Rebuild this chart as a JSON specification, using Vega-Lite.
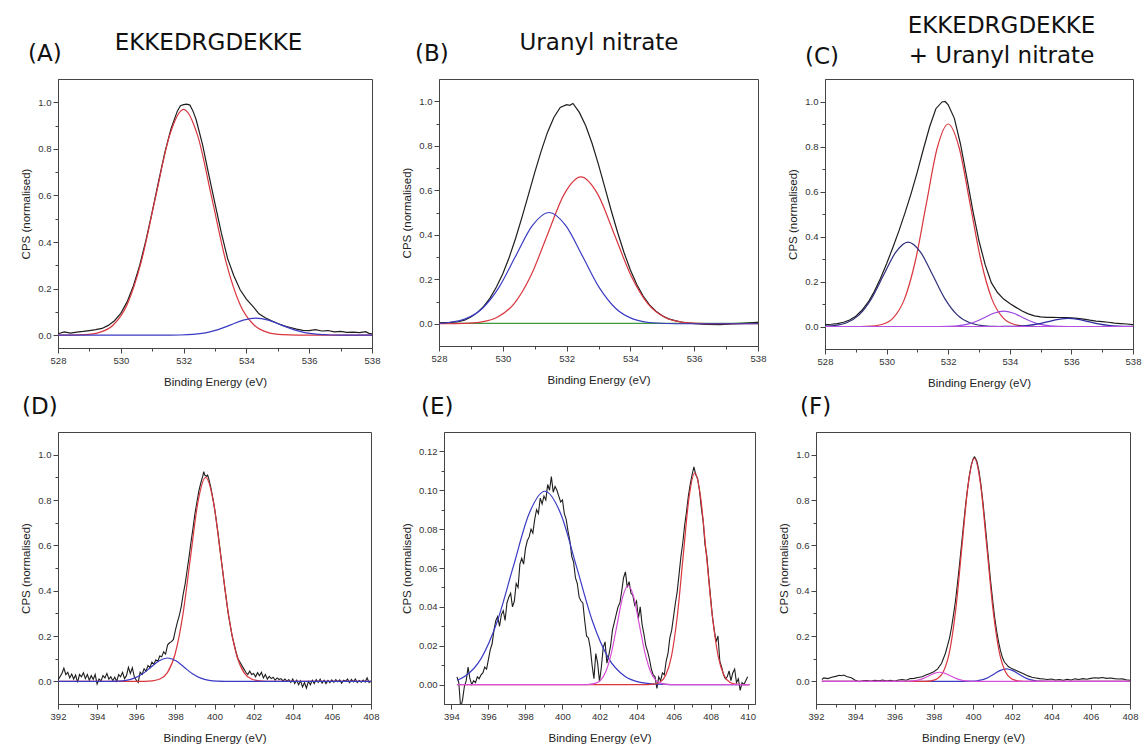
{
"$schema": "https://vega.github.io/schema/vega-lite/v6.json",
"background": "white",
"padding": {"left": 20, "top": 13, "right": 2, "bottom": 2},
"spacing": 5,
"datasets": {
"A": [
{"series":"Measured","eV":528,"cps":0.006},{"series":"Measured","eV":528.2,"cps":0.014},{"series":"Measured","eV":528.4,"cps":0.009},{"series":"Measured","eV":528.6,"cps":0.013},{"series":"Measured","eV":528.8,"cps":0.016},{"series":"Measured","eV":529,"cps":0.02},{"series":"Measured","eV":529.2,"cps":0.024},{"series":"Measured","eV":529.4,"cps":0.029},{"series":"Measured","eV":529.6,"cps":0.042},{"series":"Measured","eV":529.8,"cps":0.062},{"series":"Measured","eV":530,"cps":0.094},{"series":"Measured","eV":530.2,"cps":0.143},{"series":"Measured","eV":530.4,"cps":0.211},{"series":"Measured","eV":530.6,"cps":0.299},{"series":"Measured","eV":530.8,"cps":0.407},{"series":"Measured","eV":531,"cps":0.529},{"series":"Measured","eV":531.2,"cps":0.658},{"series":"Measured","eV":531.4,"cps":0.783},{"series":"Measured","eV":531.6,"cps":0.887},{"series":"Measured","eV":531.8,"cps":0.962},{"series":"Measured","eV":531.9,"cps":0.985},{"series":"Measured","eV":532,"cps":0.99},{"series":"Measured","eV":532.1,"cps":0.992},{"series":"Measured","eV":532.2,"cps":0.988},{"series":"Measured","eV":532.3,"cps":0.962},{"series":"Measured","eV":532.4,"cps":0.925},{"series":"Measured","eV":532.6,"cps":0.82},{"series":"Measured","eV":532.8,"cps":0.69},{"series":"Measured","eV":533,"cps":0.565},{"series":"Measured","eV":533.2,"cps":0.44},{"series":"Measured","eV":533.4,"cps":0.33},{"series":"Measured","eV":533.6,"cps":0.255},{"series":"Measured","eV":533.8,"cps":0.195},{"series":"Measured","eV":534,"cps":0.155},{"series":"Measured","eV":534.2,"cps":0.125},{"series":"Measured","eV":534.4,"cps":0.092},{"series":"Measured","eV":534.6,"cps":0.075},{"series":"Measured","eV":534.8,"cps":0.062},{"series":"Measured","eV":535,"cps":0.05},{"series":"Measured","eV":535.2,"cps":0.04},{"series":"Measured","eV":535.4,"cps":0.033},{"series":"Measured","eV":535.6,"cps":0.026},{"series":"Measured","eV":535.8,"cps":0.021},{"series":"Measured","eV":536,"cps":0.02},{"series":"Measured","eV":536.2,"cps":0.024},{"series":"Measured","eV":536.4,"cps":0.018},{"series":"Measured","eV":536.6,"cps":0.02},{"series":"Measured","eV":536.8,"cps":0.014},{"series":"Measured","eV":537,"cps":0.016},{"series":"Measured","eV":537.2,"cps":0.012},{"series":"Measured","eV":537.4,"cps":0.013},{"series":"Measured","eV":537.6,"cps":0.011},{"series":"Measured","eV":537.8,"cps":0.015},{"series":"Measured","eV":537.9,"cps":0.008},{"series":"Measured","eV":538,"cps":0.006},
{"series":"Component 1","eV":528,"cps":0},{"series":"Component 1","eV":528.4,"cps":0},{"series":"Component 1","eV":528.85,"cps":0.0021},{"series":"Component 1","eV":529.3,"cps":0.0108},{"series":"Component 1","eV":529.75,"cps":0.0426},{"series":"Component 1","eV":530.2,"cps":0.1312},{"series":"Component 1","eV":530.65,"cps":0.315},{"series":"Component 1","eV":531.1,"cps":0.5883},{"series":"Component 1","eV":531.55,"cps":0.856},{"series":"Component 1","eV":532,"cps":0.97},{"series":"Component 1","eV":532.45,"cps":0.856},{"series":"Component 1","eV":532.9,"cps":0.5883},{"series":"Component 1","eV":533.35,"cps":0.315},{"series":"Component 1","eV":533.8,"cps":0.1312},{"series":"Component 1","eV":534.25,"cps":0.0426},{"series":"Component 1","eV":534.7,"cps":0.0108},{"series":"Component 1","eV":535.15,"cps":0.0021},{"series":"Component 1","eV":535.6,"cps":0},{"series":"Component 1","eV":538,"cps":0},
{"series":"Component 2","eV":528,"cps":0},{"series":"Component 2","eV":531.1,"cps":0},{"series":"Component 2","eV":531.5,"cps":0.0002},{"series":"Component 2","eV":531.9,"cps":0.0008},{"series":"Component 2","eV":532.3,"cps":0.0032},{"series":"Component 2","eV":532.7,"cps":0.0099},{"series":"Component 2","eV":533.1,"cps":0.0237},{"series":"Component 2","eV":533.5,"cps":0.0443},{"series":"Component 2","eV":533.9,"cps":0.0644},{"series":"Component 2","eV":534.3,"cps":0.073},{"series":"Component 2","eV":534.7,"cps":0.0644},{"series":"Component 2","eV":535.1,"cps":0.0443},{"series":"Component 2","eV":535.5,"cps":0.0237},{"series":"Component 2","eV":535.9,"cps":0.0099},{"series":"Component 2","eV":536.3,"cps":0.0032},{"series":"Component 2","eV":536.7,"cps":0.0008},{"series":"Component 2","eV":537.1,"cps":0.0002},{"series":"Component 2","eV":537.5,"cps":0},{"series":"Component 2","eV":538,"cps":0}
],
"B": [
{"series":"Measured","eV":528,"cps":0.004},{"series":"Measured","eV":528.2,"cps":0.005},{"series":"Measured","eV":528.4,"cps":0.006},{"series":"Measured","eV":528.6,"cps":0.009},{"series":"Measured","eV":528.8,"cps":0.016},{"series":"Measured","eV":529,"cps":0.03},{"series":"Measured","eV":529.2,"cps":0.05},{"series":"Measured","eV":529.4,"cps":0.078},{"series":"Measured","eV":529.6,"cps":0.115},{"series":"Measured","eV":529.8,"cps":0.165},{"series":"Measured","eV":530,"cps":0.225},{"series":"Measured","eV":530.2,"cps":0.298},{"series":"Measured","eV":530.4,"cps":0.383},{"series":"Measured","eV":530.6,"cps":0.478},{"series":"Measured","eV":530.8,"cps":0.578},{"series":"Measured","eV":531,"cps":0.679},{"series":"Measured","eV":531.2,"cps":0.775},{"series":"Measured","eV":531.4,"cps":0.86},{"series":"Measured","eV":531.6,"cps":0.927},{"series":"Measured","eV":531.8,"cps":0.972},{"series":"Measured","eV":532,"cps":0.985},{"series":"Measured","eV":532.1,"cps":0.982},{"series":"Measured","eV":532.2,"cps":0.99},{"series":"Measured","eV":532.4,"cps":0.95},{"series":"Measured","eV":532.6,"cps":0.89},{"series":"Measured","eV":532.8,"cps":0.81},{"series":"Measured","eV":533,"cps":0.715},{"series":"Measured","eV":533.2,"cps":0.612},{"series":"Measured","eV":533.4,"cps":0.508},{"series":"Measured","eV":533.6,"cps":0.41},{"series":"Measured","eV":533.8,"cps":0.32},{"series":"Measured","eV":534,"cps":0.242},{"series":"Measured","eV":534.2,"cps":0.176},{"series":"Measured","eV":534.4,"cps":0.124},{"series":"Measured","eV":534.6,"cps":0.085},{"series":"Measured","eV":534.8,"cps":0.056},{"series":"Measured","eV":535,"cps":0.036},{"series":"Measured","eV":535.2,"cps":0.022},{"series":"Measured","eV":535.4,"cps":0.014},{"series":"Measured","eV":535.6,"cps":0.008},{"series":"Measured","eV":535.8,"cps":0.004},{"series":"Measured","eV":536,"cps":0.001},{"series":"Measured","eV":536.4,"cps":-0.003},{"series":"Measured","eV":536.8,"cps":-0.004},{"series":"Measured","eV":537.2,"cps":-0.001},{"series":"Measured","eV":537.6,"cps":0.002},{"series":"Measured","eV":538,"cps":0.006},
{"series":"Background","eV":528,"cps":0.003},{"series":"Background","eV":528.8,"cps":0.002},{"series":"Background","eV":537.2,"cps":0.002},{"series":"Background","eV":538,"cps":0.006},
{"series":"Component 1","eV":528,"cps":0},{"series":"Component 1","eV":528.25,"cps":0},{"series":"Component 1","eV":528.775,"cps":0.0015},{"series":"Component 1","eV":529.3,"cps":0.0073},{"series":"Component 1","eV":529.825,"cps":0.029},{"series":"Component 1","eV":530.35,"cps":0.0893},{"series":"Component 1","eV":530.875,"cps":0.2143},{"series":"Component 1","eV":531.4,"cps":0.4003},{"series":"Component 1","eV":531.925,"cps":0.5825},{"series":"Component 1","eV":532.45,"cps":0.66},{"series":"Component 1","eV":532.975,"cps":0.5825},{"series":"Component 1","eV":533.5,"cps":0.4003},{"series":"Component 1","eV":534.025,"cps":0.2143},{"series":"Component 1","eV":534.55,"cps":0.0893},{"series":"Component 1","eV":535.075,"cps":0.029},{"series":"Component 1","eV":535.6,"cps":0.0073},{"series":"Component 1","eV":536.125,"cps":0.0015},{"series":"Component 1","eV":536.65,"cps":0},{"series":"Component 1","eV":538,"cps":0},
{"series":"Component 2","eV":528,"cps":0.0023},{"series":"Component 2","eV":528.3,"cps":0.0056},{"series":"Component 2","eV":528.825,"cps":0.022},{"series":"Component 2","eV":529.35,"cps":0.0677},{"series":"Component 2","eV":529.875,"cps":0.1624},{"series":"Component 2","eV":530.4,"cps":0.3033},{"series":"Component 2","eV":530.925,"cps":0.4413},{"series":"Component 2","eV":531.45,"cps":0.5},{"series":"Component 2","eV":531.975,"cps":0.4413},{"series":"Component 2","eV":532.5,"cps":0.3033},{"series":"Component 2","eV":533.025,"cps":0.1624},{"series":"Component 2","eV":533.55,"cps":0.0677},{"series":"Component 2","eV":534.075,"cps":0.022},{"series":"Component 2","eV":534.6,"cps":0.0056},{"series":"Component 2","eV":535.125,"cps":0.0011},{"series":"Component 2","eV":535.65,"cps":0},{"series":"Component 2","eV":538,"cps":0}
],
"C": [
{"series":"Measured","eV":528,"cps":0.008},{"series":"Measured","eV":528.2,"cps":0.01},{"series":"Measured","eV":528.4,"cps":0.013},{"series":"Measured","eV":528.6,"cps":0.019},{"series":"Measured","eV":528.8,"cps":0.029},{"series":"Measured","eV":529,"cps":0.046},{"series":"Measured","eV":529.2,"cps":0.072},{"series":"Measured","eV":529.4,"cps":0.108},{"series":"Measured","eV":529.6,"cps":0.155},{"series":"Measured","eV":529.8,"cps":0.213},{"series":"Measured","eV":530,"cps":0.279},{"series":"Measured","eV":530.2,"cps":0.35},{"series":"Measured","eV":530.4,"cps":0.425},{"series":"Measured","eV":530.6,"cps":0.506},{"series":"Measured","eV":530.8,"cps":0.593},{"series":"Measured","eV":531,"cps":0.688},{"series":"Measured","eV":531.2,"cps":0.791},{"series":"Measured","eV":531.4,"cps":0.889},{"series":"Measured","eV":531.6,"cps":0.968},{"series":"Measured","eV":531.8,"cps":0.998},{"series":"Measured","eV":531.9,"cps":1.0},{"series":"Measured","eV":532,"cps":0.985},{"series":"Measured","eV":532.2,"cps":0.925},{"series":"Measured","eV":532.4,"cps":0.81},{"series":"Measured","eV":532.6,"cps":0.665},{"series":"Measured","eV":532.8,"cps":0.515},{"series":"Measured","eV":533,"cps":0.38},{"series":"Measured","eV":533.2,"cps":0.275},{"series":"Measured","eV":533.4,"cps":0.195},{"series":"Measured","eV":533.6,"cps":0.151},{"series":"Measured","eV":533.8,"cps":0.122},{"series":"Measured","eV":534,"cps":0.102},{"series":"Measured","eV":534.2,"cps":0.085},{"series":"Measured","eV":534.4,"cps":0.069},{"series":"Measured","eV":534.6,"cps":0.056},{"series":"Measured","eV":534.8,"cps":0.047},{"series":"Measured","eV":535,"cps":0.043},{"series":"Measured","eV":535.2,"cps":0.041},{"series":"Measured","eV":535.4,"cps":0.041},{"series":"Measured","eV":535.6,"cps":0.04},{"series":"Measured","eV":535.8,"cps":0.04},{"series":"Measured","eV":536,"cps":0.039},{"series":"Measured","eV":536.2,"cps":0.036},{"series":"Measured","eV":536.4,"cps":0.033},{"series":"Measured","eV":536.6,"cps":0.028},{"series":"Measured","eV":536.8,"cps":0.024},{"series":"Measured","eV":537,"cps":0.022},{"series":"Measured","eV":537.2,"cps":0.019},{"series":"Measured","eV":537.4,"cps":0.015},{"series":"Measured","eV":537.6,"cps":0.013},{"series":"Measured","eV":537.8,"cps":0.011},{"series":"Measured","eV":538,"cps":0.008},
{"series":"Component 1","eV":528,"cps":0},{"series":"Component 1","eV":529.16,"cps":0},{"series":"Component 1","eV":529.515,"cps":0.002},{"series":"Component 1","eV":529.87,"cps":0.01},{"series":"Component 1","eV":530.225,"cps":0.0395},{"series":"Component 1","eV":530.58,"cps":0.1218},{"series":"Component 1","eV":530.935,"cps":0.2922},{"series":"Component 1","eV":531.29,"cps":0.5459},{"series":"Component 1","eV":531.645,"cps":0.7943},{"series":"Component 1","eV":532,"cps":0.9},{"series":"Component 1","eV":532.355,"cps":0.7943},{"series":"Component 1","eV":532.71,"cps":0.5459},{"series":"Component 1","eV":533.065,"cps":0.2922},{"series":"Component 1","eV":533.42,"cps":0.1218},{"series":"Component 1","eV":533.775,"cps":0.0395},{"series":"Component 1","eV":534.13,"cps":0.01},{"series":"Component 1","eV":534.485,"cps":0.002},{"series":"Component 1","eV":534.84,"cps":0},{"series":"Component 1","eV":538,"cps":0},
{"series":"Component 4","eV":528,"cps":0.0013},{"series":"Component 4","eV":528.3,"cps":0.0042},{"series":"Component 4","eV":528.7,"cps":0.0165},{"series":"Component 4","eV":529.1,"cps":0.0507},{"series":"Component 4","eV":529.5,"cps":0.1218},{"series":"Component 4","eV":529.9,"cps":0.2274},{"series":"Component 4","eV":530.3,"cps":0.3309},{"series":"Component 4","eV":530.7,"cps":0.375},{"series":"Component 4","eV":531.1,"cps":0.3309},{"series":"Component 4","eV":531.5,"cps":0.2274},{"series":"Component 4","eV":531.9,"cps":0.1218},{"series":"Component 4","eV":532.3,"cps":0.0507},{"series":"Component 4","eV":532.7,"cps":0.0165},{"series":"Component 4","eV":533.1,"cps":0.0042},{"series":"Component 4","eV":533.5,"cps":0.0008},{"series":"Component 4","eV":533.9,"cps":0},{"series":"Component 4","eV":538,"cps":0},
{"series":"Component 5","eV":528,"cps":0},{"series":"Component 5","eV":531.4,"cps":0},{"series":"Component 5","eV":531.7,"cps":0.0001},{"series":"Component 5","eV":532,"cps":0.0008},{"series":"Component 5","eV":532.3,"cps":0.003},{"series":"Component 5","eV":532.6,"cps":0.0092},{"series":"Component 5","eV":532.9,"cps":0.0221},{"series":"Component 5","eV":533.2,"cps":0.0412},{"series":"Component 5","eV":533.5,"cps":0.06},{"series":"Component 5","eV":533.8,"cps":0.068},{"series":"Component 5","eV":534.1,"cps":0.06},{"series":"Component 5","eV":534.4,"cps":0.0412},{"series":"Component 5","eV":534.7,"cps":0.0221},{"series":"Component 5","eV":535,"cps":0.0092},{"series":"Component 5","eV":535.3,"cps":0.003},{"series":"Component 5","eV":535.6,"cps":0.0008},{"series":"Component 5","eV":535.9,"cps":0.0001},{"series":"Component 5","eV":536.2,"cps":0},{"series":"Component 5","eV":538,"cps":0},
{"series":"Component 6","eV":528,"cps":0},{"series":"Component 6","eV":533.3,"cps":0},{"series":"Component 6","eV":533.625,"cps":0.0001},{"series":"Component 6","eV":533.95,"cps":0.0004},{"series":"Component 6","eV":534.275,"cps":0.0016},{"series":"Component 6","eV":534.6,"cps":0.0049},{"series":"Component 6","eV":534.925,"cps":0.0117},{"series":"Component 6","eV":535.25,"cps":0.0218},{"series":"Component 6","eV":535.575,"cps":0.0318},{"series":"Component 6","eV":535.9,"cps":0.036},{"series":"Component 6","eV":536.225,"cps":0.0318},{"series":"Component 6","eV":536.55,"cps":0.0218},{"series":"Component 6","eV":536.875,"cps":0.0117},{"series":"Component 6","eV":537.2,"cps":0.0049},{"series":"Component 6","eV":537.525,"cps":0.0016},{"series":"Component 6","eV":537.85,"cps":0.0004},{"series":"Component 6","eV":538,"cps":0.0002},
{"series":"Zero line","eV":528,"cps":0},{"series":"Zero line","eV":538,"cps":0}
],
"D": [
{"series":"Measured","eV":392,"cps":0.005},{"series":"Measured","eV":392.1,"cps":0.02},{"series":"Measured","eV":392.2,"cps":0.035},{"series":"Measured","eV":392.3,"cps":0.058},{"series":"Measured","eV":392.4,"cps":0.03},{"series":"Measured","eV":392.5,"cps":0.04},{"series":"Measured","eV":392.6,"cps":0.015},{"series":"Measured","eV":392.7,"cps":0.032},{"series":"Measured","eV":392.8,"cps":0.01},{"series":"Measured","eV":392.9,"cps":0.028},{"series":"Measured","eV":393,"cps":-0.005},{"series":"Measured","eV":393.1,"cps":0.03},{"series":"Measured","eV":393.2,"cps":0.02},{"series":"Measured","eV":393.3,"cps":0.038},{"series":"Measured","eV":393.4,"cps":0.012},{"series":"Measured","eV":393.5,"cps":0.03},{"series":"Measured","eV":393.6,"cps":0.005},{"series":"Measured","eV":393.7,"cps":0.025},{"series":"Measured","eV":393.8,"cps":0.008},{"series":"Measured","eV":393.9,"cps":0.03},{"series":"Measured","eV":394,"cps":-0.012},{"series":"Measured","eV":394.1,"cps":0.01},{"series":"Measured","eV":394.2,"cps":0.002},{"series":"Measured","eV":394.3,"cps":0.025},{"series":"Measured","eV":394.4,"cps":0.015},{"series":"Measured","eV":394.5,"cps":0.035},{"series":"Measured","eV":394.6,"cps":0.01},{"series":"Measured","eV":394.7,"cps":0.02},{"series":"Measured","eV":394.8,"cps":0.003},{"series":"Measured","eV":394.9,"cps":0.018},{"series":"Measured","eV":395,"cps":0},{"series":"Measured","eV":395.1,"cps":0.03},{"series":"Measured","eV":395.2,"cps":0.02},{"series":"Measured","eV":395.3,"cps":0.04},{"series":"Measured","eV":395.4,"cps":0.012},{"series":"Measured","eV":395.5,"cps":0.025},{"series":"Measured","eV":395.6,"cps":0.062},{"series":"Measured","eV":395.7,"cps":0.035},{"series":"Measured","eV":395.8,"cps":0.06},{"series":"Measured","eV":395.9,"cps":0.02},{"series":"Measured","eV":396,"cps":0.005},{"series":"Measured","eV":396.1,"cps":-0.005},{"series":"Measured","eV":396.2,"cps":0.04},{"series":"Measured","eV":396.3,"cps":0.03},{"series":"Measured","eV":396.4,"cps":0.055},{"series":"Measured","eV":396.5,"cps":0.045},{"series":"Measured","eV":396.6,"cps":0.07},{"series":"Measured","eV":396.7,"cps":0.06},{"series":"Measured","eV":396.8,"cps":0.085},{"series":"Measured","eV":396.9,"cps":0.075},{"series":"Measured","eV":397,"cps":0.095},{"series":"Measured","eV":397.1,"cps":0.088},{"series":"Measured","eV":397.2,"cps":0.112},{"series":"Measured","eV":397.3,"cps":0.108},{"series":"Measured","eV":397.4,"cps":0.13},{"series":"Measured","eV":397.5,"cps":0.12},{"series":"Measured","eV":397.6,"cps":0.16},{"series":"Measured","eV":397.7,"cps":0.17},{"series":"Measured","eV":397.8,"cps":0.175},{"series":"Measured","eV":397.9,"cps":0.185},{"series":"Measured","eV":398,"cps":0.225},{"series":"Measured","eV":398.1,"cps":0.26},{"series":"Measured","eV":398.2,"cps":0.29},{"series":"Measured","eV":398.3,"cps":0.33},{"series":"Measured","eV":398.4,"cps":0.385},{"series":"Measured","eV":398.5,"cps":0.43},{"series":"Measured","eV":398.6,"cps":0.49},{"series":"Measured","eV":398.7,"cps":0.55},{"series":"Measured","eV":398.8,"cps":0.615},{"series":"Measured","eV":398.9,"cps":0.675},{"series":"Measured","eV":399,"cps":0.74},{"series":"Measured","eV":399.1,"cps":0.79},{"series":"Measured","eV":399.2,"cps":0.84},{"series":"Measured","eV":399.3,"cps":0.875},{"series":"Measured","eV":399.4,"cps":0.905},{"series":"Measured","eV":399.45,"cps":0.925},{"series":"Measured","eV":399.5,"cps":0.91},{"series":"Measured","eV":399.6,"cps":0.905},{"series":"Measured","eV":399.65,"cps":0.91},{"series":"Measured","eV":399.7,"cps":0.895},{"series":"Measured","eV":399.8,"cps":0.86},{"series":"Measured","eV":399.9,"cps":0.815},{"series":"Measured","eV":400,"cps":0.765},{"series":"Measured","eV":400.1,"cps":0.705},{"series":"Measured","eV":400.2,"cps":0.64},{"series":"Measured","eV":400.3,"cps":0.57},{"series":"Measured","eV":400.4,"cps":0.5},{"series":"Measured","eV":400.5,"cps":0.43},{"series":"Measured","eV":400.6,"cps":0.365},{"series":"Measured","eV":400.7,"cps":0.3},{"series":"Measured","eV":400.8,"cps":0.25},{"series":"Measured","eV":400.9,"cps":0.2},{"series":"Measured","eV":401,"cps":0.165},{"series":"Measured","eV":401.1,"cps":0.13},{"series":"Measured","eV":401.2,"cps":0.1},{"series":"Measured","eV":401.3,"cps":0.085},{"series":"Measured","eV":401.4,"cps":0.07},{"series":"Measured","eV":401.5,"cps":0.055},{"series":"Measured","eV":401.6,"cps":0.04},{"series":"Measured","eV":401.7,"cps":0.03},{"series":"Measured","eV":401.8,"cps":0.045},{"series":"Measured","eV":401.9,"cps":0.03},{"series":"Measured","eV":402,"cps":0.035},{"series":"Measured","eV":402.1,"cps":0.02},{"series":"Measured","eV":402.2,"cps":0.038},{"series":"Measured","eV":402.3,"cps":0.025},{"series":"Measured","eV":402.4,"cps":0.04},{"series":"Measured","eV":402.5,"cps":0.015},{"series":"Measured","eV":402.6,"cps":0.03},{"series":"Measured","eV":402.7,"cps":0.01},{"series":"Measured","eV":402.8,"cps":0.022},{"series":"Measured","eV":402.9,"cps":0.012},{"series":"Measured","eV":403,"cps":0.018},{"series":"Measured","eV":403.1,"cps":0.005},{"series":"Measured","eV":403.2,"cps":0.015},{"series":"Measured","eV":403.3,"cps":0.008},{"series":"Measured","eV":403.4,"cps":0.012},{"series":"Measured","eV":403.5,"cps":0.002},{"series":"Measured","eV":403.6,"cps":0.01},{"series":"Measured","eV":403.7,"cps":0},{"series":"Measured","eV":403.8,"cps":0.008},{"series":"Measured","eV":403.9,"cps":-0.005},{"series":"Measured","eV":404,"cps":0.01},{"series":"Measured","eV":404.1,"cps":-0.01},{"series":"Measured","eV":404.2,"cps":0.005},{"series":"Measured","eV":404.3,"cps":-0.015},{"series":"Measured","eV":404.4,"cps":0.002},{"series":"Measured","eV":404.5,"cps":-0.025},{"series":"Measured","eV":404.6,"cps":-0.005},{"series":"Measured","eV":404.7,"cps":-0.03},{"series":"Measured","eV":404.8,"cps":0},{"series":"Measured","eV":404.9,"cps":-0.015},{"series":"Measured","eV":405,"cps":0.005},{"series":"Measured","eV":405.1,"cps":-0.01},{"series":"Measured","eV":405.2,"cps":0.008},{"series":"Measured","eV":405.3,"cps":-0.005},{"series":"Measured","eV":405.4,"cps":0.01},{"series":"Measured","eV":405.5,"cps":-0.008},{"series":"Measured","eV":405.6,"cps":0.005},{"series":"Measured","eV":405.7,"cps":-0.01},{"series":"Measured","eV":405.8,"cps":0.004},{"series":"Measured","eV":405.9,"cps":-0.006},{"series":"Measured","eV":406,"cps":0.006},{"series":"Measured","eV":406.1,"cps":-0.004},{"series":"Measured","eV":406.2,"cps":0.008},{"series":"Measured","eV":406.3,"cps":-0.002},{"series":"Measured","eV":406.4,"cps":0.006},{"series":"Measured","eV":406.5,"cps":-0.008},{"series":"Measured","eV":406.6,"cps":0.005},{"series":"Measured","eV":406.7,"cps":0},{"series":"Measured","eV":406.8,"cps":0.01},{"series":"Measured","eV":406.9,"cps":-0.006},{"series":"Measured","eV":407,"cps":0.008},{"series":"Measured","eV":407.1,"cps":-0.002},{"series":"Measured","eV":407.2,"cps":0.01},{"series":"Measured","eV":407.3,"cps":-0.005},{"series":"Measured","eV":407.4,"cps":0.004},{"series":"Measured","eV":407.5,"cps":-0.004},{"series":"Measured","eV":407.6,"cps":0.006},{"series":"Measured","eV":407.7,"cps":-0.003},{"series":"Measured","eV":407.8,"cps":0.015},{"series":"Measured","eV":407.9,"cps":-0.005},{"series":"Measured","eV":408,"cps":0},
{"series":"Component 1","eV":392,"cps":0},{"series":"Component 1","eV":396.43,"cps":0},{"series":"Component 1","eV":396.82,"cps":0.002},{"series":"Component 1","eV":397.21,"cps":0.01},{"series":"Component 1","eV":397.6,"cps":0.0395},{"series":"Component 1","eV":397.99,"cps":0.1218},{"series":"Component 1","eV":398.38,"cps":0.2922},{"series":"Component 1","eV":398.77,"cps":0.5459},{"series":"Component 1","eV":399.16,"cps":0.7943},{"series":"Component 1","eV":399.55,"cps":0.9},{"series":"Component 1","eV":399.94,"cps":0.7943},{"series":"Component 1","eV":400.33,"cps":0.5459},{"series":"Component 1","eV":400.72,"cps":0.2922},{"series":"Component 1","eV":401.11,"cps":0.1218},{"series":"Component 1","eV":401.5,"cps":0.0395},{"series":"Component 1","eV":401.89,"cps":0.01},{"series":"Component 1","eV":402.28,"cps":0.002},{"series":"Component 1","eV":402.67,"cps":0},{"series":"Component 1","eV":408,"cps":0},
{"series":"Component 2","eV":392,"cps":0},{"series":"Component 2","eV":394.2,"cps":0},{"series":"Component 2","eV":394.625,"cps":0.0002},{"series":"Component 2","eV":395.05,"cps":0.0011},{"series":"Component 2","eV":395.475,"cps":0.0045},{"series":"Component 2","eV":395.9,"cps":0.0139},{"series":"Component 2","eV":396.325,"cps":0.0334},{"series":"Component 2","eV":396.75,"cps":0.0625},{"series":"Component 2","eV":397.175,"cps":0.0909},{"series":"Component 2","eV":397.6,"cps":0.103},{"series":"Component 2","eV":398.025,"cps":0.0909},{"series":"Component 2","eV":398.45,"cps":0.0625},{"series":"Component 2","eV":398.875,"cps":0.0334},{"series":"Component 2","eV":399.3,"cps":0.0139},{"series":"Component 2","eV":399.725,"cps":0.0045},{"series":"Component 2","eV":400.15,"cps":0.0011},{"series":"Component 2","eV":400.575,"cps":0.0002},{"series":"Component 2","eV":401,"cps":0},{"series":"Component 2","eV":408,"cps":0}
],
"E": [
{"series":"Measured","eV":394.3,"cps":0.004},{"series":"Measured","eV":394.4,"cps":0.001},{"series":"Measured","eV":394.5,"cps":-0.012},{"series":"Measured","eV":394.6,"cps":-0.008},{"series":"Measured","eV":394.7,"cps":-0.001},{"series":"Measured","eV":394.8,"cps":0.002},{"series":"Measured","eV":394.9,"cps":0.009},{"series":"Measured","eV":395,"cps":0.003},{"series":"Measured","eV":395.1,"cps":0},{"series":"Measured","eV":395.2,"cps":0.002},{"series":"Measured","eV":395.3,"cps":0.001},{"series":"Measured","eV":395.4,"cps":0.004},{"series":"Measured","eV":395.5,"cps":0.003},{"series":"Measured","eV":395.6,"cps":0.005},{"series":"Measured","eV":395.7,"cps":0.006},{"series":"Measured","eV":395.8,"cps":0.009},{"series":"Measured","eV":395.9,"cps":0.008},{"series":"Measured","eV":396,"cps":0.013},{"series":"Measured","eV":396.1,"cps":0.018},{"series":"Measured","eV":396.2,"cps":0.021},{"series":"Measured","eV":396.3,"cps":0.028},{"series":"Measured","eV":396.4,"cps":0.033},{"series":"Measured","eV":396.5,"cps":0.035},{"series":"Measured","eV":396.6,"cps":0.03},{"series":"Measured","eV":396.7,"cps":0.036},{"series":"Measured","eV":396.8,"cps":0.038},{"series":"Measured","eV":396.9,"cps":0.033},{"series":"Measured","eV":397,"cps":0.042},{"series":"Measured","eV":397.1,"cps":0.045},{"series":"Measured","eV":397.2,"cps":0.047},{"series":"Measured","eV":397.3,"cps":0.04},{"series":"Measured","eV":397.4,"cps":0.043},{"series":"Measured","eV":397.5,"cps":0.052},{"series":"Measured","eV":397.6,"cps":0.05},{"series":"Measured","eV":397.7,"cps":0.062},{"series":"Measured","eV":397.8,"cps":0.065},{"series":"Measured","eV":397.9,"cps":0.062},{"series":"Measured","eV":398,"cps":0.07},{"series":"Measured","eV":398.1,"cps":0.074},{"series":"Measured","eV":398.2,"cps":0.076},{"series":"Measured","eV":398.3,"cps":0.08},{"series":"Measured","eV":398.4,"cps":0.078},{"series":"Measured","eV":398.5,"cps":0.085},{"series":"Measured","eV":398.6,"cps":0.09},{"series":"Measured","eV":398.7,"cps":0.088},{"series":"Measured","eV":398.8,"cps":0.096},{"series":"Measured","eV":398.9,"cps":0.093},{"series":"Measured","eV":399,"cps":0.097},{"series":"Measured","eV":399.1,"cps":0.095},{"series":"Measured","eV":399.2,"cps":0.103},{"series":"Measured","eV":399.3,"cps":0.1},{"series":"Measured","eV":399.4,"cps":0.107},{"series":"Measured","eV":399.5,"cps":0.099},{"series":"Measured","eV":399.6,"cps":0.102},{"series":"Measured","eV":399.7,"cps":0.1},{"series":"Measured","eV":399.8,"cps":0.097},{"series":"Measured","eV":399.9,"cps":0.094},{"series":"Measured","eV":400,"cps":0.095},{"series":"Measured","eV":400.1,"cps":0.088},{"series":"Measured","eV":400.2,"cps":0.085},{"series":"Measured","eV":400.3,"cps":0.079},{"series":"Measured","eV":400.4,"cps":0.074},{"series":"Measured","eV":400.5,"cps":0.066},{"series":"Measured","eV":400.6,"cps":0.063},{"series":"Measured","eV":400.7,"cps":0.055},{"series":"Measured","eV":400.8,"cps":0.052},{"series":"Measured","eV":400.9,"cps":0.045},{"series":"Measured","eV":401,"cps":0.043},{"series":"Measured","eV":401.1,"cps":0.042},{"series":"Measured","eV":401.2,"cps":0.033},{"series":"Measured","eV":401.3,"cps":0.025},{"series":"Measured","eV":401.4,"cps":0.024},{"series":"Measured","eV":401.5,"cps":0.019},{"series":"Measured","eV":401.6,"cps":0.01},{"series":"Measured","eV":401.7,"cps":0.003},{"series":"Measured","eV":401.8,"cps":0.016},{"series":"Measured","eV":401.9,"cps":0.011},{"series":"Measured","eV":402,"cps":0.0015},{"series":"Measured","eV":402.1,"cps":0.009},{"series":"Measured","eV":402.2,"cps":0.019},{"series":"Measured","eV":402.3,"cps":0.022},{"series":"Measured","eV":402.4,"cps":0.011},{"series":"Measured","eV":402.5,"cps":0.015},{"series":"Measured","eV":402.6,"cps":0.02},{"series":"Measured","eV":402.7,"cps":0.028},{"series":"Measured","eV":402.8,"cps":0.032},{"series":"Measured","eV":402.9,"cps":0.036},{"series":"Measured","eV":403,"cps":0.04},{"series":"Measured","eV":403.1,"cps":0.042},{"series":"Measured","eV":403.2,"cps":0.048},{"series":"Measured","eV":403.3,"cps":0.055},{"series":"Measured","eV":403.4,"cps":0.058},{"series":"Measured","eV":403.5,"cps":0.05},{"series":"Measured","eV":403.6,"cps":0.053},{"series":"Measured","eV":403.7,"cps":0.047},{"series":"Measured","eV":403.8,"cps":0.046},{"series":"Measured","eV":403.9,"cps":0.041},{"series":"Measured","eV":404,"cps":0.043},{"series":"Measured","eV":404.1,"cps":0.034},{"series":"Measured","eV":404.2,"cps":0.04},{"series":"Measured","eV":404.3,"cps":0.031},{"series":"Measured","eV":404.4,"cps":0.026},{"series":"Measured","eV":404.5,"cps":0.02},{"series":"Measured","eV":404.6,"cps":0.017},{"series":"Measured","eV":404.7,"cps":0.013},{"series":"Measured","eV":404.8,"cps":0.008},{"series":"Measured","eV":404.9,"cps":0.005},{"series":"Measured","eV":405,"cps":0.004},{"series":"Measured","eV":405.1,"cps":-0.002},{"series":"Measured","eV":405.2,"cps":0.004},{"series":"Measured","eV":405.3,"cps":0.002},{"series":"Measured","eV":405.4,"cps":0.006},{"series":"Measured","eV":405.5,"cps":0.005},{"series":"Measured","eV":405.6,"cps":0.012},{"series":"Measured","eV":405.7,"cps":0.016},{"series":"Measured","eV":405.8,"cps":0.024},{"series":"Measured","eV":405.9,"cps":0.028},{"series":"Measured","eV":406,"cps":0.035},{"series":"Measured","eV":406.1,"cps":0.042},{"series":"Measured","eV":406.2,"cps":0.048},{"series":"Measured","eV":406.3,"cps":0.057},{"series":"Measured","eV":406.4,"cps":0.066},{"series":"Measured","eV":406.5,"cps":0.073},{"series":"Measured","eV":406.6,"cps":0.082},{"series":"Measured","eV":406.7,"cps":0.089},{"series":"Measured","eV":406.8,"cps":0.097},{"series":"Measured","eV":406.9,"cps":0.103},{"series":"Measured","eV":407,"cps":0.108},{"series":"Measured","eV":407.1,"cps":0.112},{"series":"Measured","eV":407.2,"cps":0.108},{"series":"Measured","eV":407.3,"cps":0.106},{"series":"Measured","eV":407.4,"cps":0.1},{"series":"Measured","eV":407.5,"cps":0.091},{"series":"Measured","eV":407.6,"cps":0.084},{"series":"Measured","eV":407.7,"cps":0.072},{"series":"Measured","eV":407.8,"cps":0.066},{"series":"Measured","eV":407.9,"cps":0.055},{"series":"Measured","eV":408,"cps":0.045},{"series":"Measured","eV":408.1,"cps":0.035},{"series":"Measured","eV":408.2,"cps":0.028},{"series":"Measured","eV":408.3,"cps":0.022},{"series":"Measured","eV":408.4,"cps":0.025},{"series":"Measured","eV":408.5,"cps":0.012},{"series":"Measured","eV":408.6,"cps":0.009},{"series":"Measured","eV":408.7,"cps":0.005},{"series":"Measured","eV":408.8,"cps":0.003},{"series":"Measured","eV":408.9,"cps":0.004},{"series":"Measured","eV":409,"cps":0.007},{"series":"Measured","eV":409.1,"cps":0.002},{"series":"Measured","eV":409.2,"cps":0.006},{"series":"Measured","eV":409.3,"cps":0.008},{"series":"Measured","eV":409.4,"cps":0.001},{"series":"Measured","eV":409.5,"cps":0.003},{"series":"Measured","eV":409.6,"cps":-0.003},{"series":"Measured","eV":409.7,"cps":0.001},{"series":"Measured","eV":409.8,"cps":0},{"series":"Measured","eV":409.9,"cps":0.002},{"series":"Measured","eV":410,"cps":0.004},
{"series":"Component 2","eV":394.3,"cps":0.0022},{"series":"Component 2","eV":394.75,"cps":0.0044},{"series":"Component 2","eV":395.61,"cps":0.0135},{"series":"Component 2","eV":396.47,"cps":0.0323},{"series":"Component 2","eV":397.33,"cps":0.0603},{"series":"Component 2","eV":398.19,"cps":0.0878},{"series":"Component 2","eV":399.05,"cps":0.0995},{"series":"Component 2","eV":399.91,"cps":0.0878},{"series":"Component 2","eV":400.77,"cps":0.0603},{"series":"Component 2","eV":401.63,"cps":0.0323},{"series":"Component 2","eV":402.49,"cps":0.0135},{"series":"Component 2","eV":403.35,"cps":0.0044},{"series":"Component 2","eV":404.21,"cps":0.0011},{"series":"Component 2","eV":405.07,"cps":0.0002},{"series":"Component 2","eV":405.93,"cps":0},{"series":"Component 2","eV":410.1,"cps":0},
{"series":"Component 1","eV":394.3,"cps":0},{"series":"Component 1","eV":404.63,"cps":0},{"series":"Component 1","eV":404.945,"cps":0.0002},{"series":"Component 1","eV":405.26,"cps":0.0012},{"series":"Component 1","eV":405.575,"cps":0.0048},{"series":"Component 1","eV":405.89,"cps":0.0147},{"series":"Component 1","eV":406.205,"cps":0.0354},{"series":"Component 1","eV":406.52,"cps":0.0661},{"series":"Component 1","eV":406.835,"cps":0.0962},{"series":"Component 1","eV":407.15,"cps":0.109},{"series":"Component 1","eV":407.465,"cps":0.0962},{"series":"Component 1","eV":407.78,"cps":0.0661},{"series":"Component 1","eV":408.095,"cps":0.0354},{"series":"Component 1","eV":408.41,"cps":0.0147},{"series":"Component 1","eV":408.725,"cps":0.0048},{"series":"Component 1","eV":409.04,"cps":0.0012},{"series":"Component 1","eV":409.355,"cps":0.0002},{"series":"Component 1","eV":409.67,"cps":0},{"series":"Component 1","eV":410.1,"cps":0},
{"series":"Component 3","eV":394.3,"cps":0},{"series":"Component 3","eV":401.15,"cps":0},{"series":"Component 3","eV":401.45,"cps":0.0001},{"series":"Component 3","eV":401.75,"cps":0.0006},{"series":"Component 3","eV":402.05,"cps":0.0022},{"series":"Component 3","eV":402.35,"cps":0.0069},{"series":"Component 3","eV":402.65,"cps":0.0166},{"series":"Component 3","eV":402.95,"cps":0.0309},{"series":"Component 3","eV":403.25,"cps":0.045},{"series":"Component 3","eV":403.55,"cps":0.051},{"series":"Component 3","eV":403.85,"cps":0.045},{"series":"Component 3","eV":404.15,"cps":0.0309},{"series":"Component 3","eV":404.45,"cps":0.0166},{"series":"Component 3","eV":404.75,"cps":0.0069},{"series":"Component 3","eV":405.05,"cps":0.0022},{"series":"Component 3","eV":405.35,"cps":0.0006},{"series":"Component 3","eV":405.65,"cps":0.0001},{"series":"Component 3","eV":405.95,"cps":0},{"series":"Component 3","eV":410.1,"cps":0}
],
"F": [
{"series":"Measured","eV":392.3,"cps":0.008},{"series":"Measured","eV":392.4,"cps":0.015},{"series":"Measured","eV":392.6,"cps":0.012},{"series":"Measured","eV":392.8,"cps":0.018},{"series":"Measured","eV":393,"cps":0.022},{"series":"Measured","eV":393.2,"cps":0.027},{"series":"Measured","eV":393.3,"cps":0.025},{"series":"Measured","eV":393.4,"cps":0.028},{"series":"Measured","eV":393.6,"cps":0.02},{"series":"Measured","eV":393.8,"cps":0.016},{"series":"Measured","eV":394,"cps":0.005},{"series":"Measured","eV":394.2,"cps":-0.002},{"series":"Measured","eV":394.4,"cps":0.002},{"series":"Measured","eV":394.6,"cps":0.003},{"series":"Measured","eV":394.8,"cps":0},{"series":"Measured","eV":395,"cps":0.004},{"series":"Measured","eV":395.2,"cps":0.002},{"series":"Measured","eV":395.4,"cps":0.006},{"series":"Measured","eV":395.6,"cps":0.001},{"series":"Measured","eV":395.8,"cps":0.005},{"series":"Measured","eV":396,"cps":0},{"series":"Measured","eV":396.2,"cps":0.006},{"series":"Measured","eV":396.4,"cps":0.008},{"series":"Measured","eV":396.6,"cps":0.005},{"series":"Measured","eV":396.8,"cps":0.012},{"series":"Measured","eV":397,"cps":0.013},{"series":"Measured","eV":397.2,"cps":0.017},{"series":"Measured","eV":397.4,"cps":0.02},{"series":"Measured","eV":397.6,"cps":0.028},{"series":"Measured","eV":397.8,"cps":0.035},{"series":"Measured","eV":398,"cps":0.042},{"series":"Measured","eV":398.2,"cps":0.055},{"series":"Measured","eV":398.4,"cps":0.08},{"series":"Measured","eV":398.6,"cps":0.125},{"series":"Measured","eV":398.8,"cps":0.19},{"series":"Measured","eV":398.9,"cps":0.235},{"series":"Measured","eV":399,"cps":0.29},{"series":"Measured","eV":399.1,"cps":0.35},{"series":"Measured","eV":399.2,"cps":0.425},{"series":"Measured","eV":399.3,"cps":0.505},{"series":"Measured","eV":399.4,"cps":0.59},{"series":"Measured","eV":399.5,"cps":0.675},{"series":"Measured","eV":399.6,"cps":0.76},{"series":"Measured","eV":399.7,"cps":0.835},{"series":"Measured","eV":399.8,"cps":0.9},{"series":"Measured","eV":399.9,"cps":0.95},{"series":"Measured","eV":400,"cps":0.98},{"series":"Measured","eV":400.07,"cps":0.99},{"series":"Measured","eV":400.1,"cps":0.988},{"series":"Measured","eV":400.2,"cps":0.97},{"series":"Measured","eV":400.3,"cps":0.93},{"series":"Measured","eV":400.4,"cps":0.87},{"series":"Measured","eV":400.5,"cps":0.795},{"series":"Measured","eV":400.6,"cps":0.71},{"series":"Measured","eV":400.7,"cps":0.62},{"series":"Measured","eV":400.8,"cps":0.53},{"series":"Measured","eV":400.9,"cps":0.44},{"series":"Measured","eV":401,"cps":0.36},{"series":"Measured","eV":401.1,"cps":0.285},{"series":"Measured","eV":401.2,"cps":0.225},{"series":"Measured","eV":401.3,"cps":0.175},{"series":"Measured","eV":401.4,"cps":0.135},{"series":"Measured","eV":401.5,"cps":0.105},{"series":"Measured","eV":401.6,"cps":0.085},{"series":"Measured","eV":401.8,"cps":0.065},{"series":"Measured","eV":402,"cps":0.055},{"series":"Measured","eV":402.2,"cps":0.048},{"series":"Measured","eV":402.4,"cps":0.04},{"series":"Measured","eV":402.6,"cps":0.032},{"series":"Measured","eV":402.8,"cps":0.024},{"series":"Measured","eV":403,"cps":0.018},{"series":"Measured","eV":403.2,"cps":0.015},{"series":"Measured","eV":403.4,"cps":0.012},{"series":"Measured","eV":403.6,"cps":0.01},{"series":"Measured","eV":403.8,"cps":0.008},{"series":"Measured","eV":404,"cps":0.01},{"series":"Measured","eV":404.2,"cps":0.006},{"series":"Measured","eV":404.4,"cps":0.008},{"series":"Measured","eV":404.6,"cps":0.005},{"series":"Measured","eV":404.8,"cps":0.009},{"series":"Measured","eV":405,"cps":0.006},{"series":"Measured","eV":405.2,"cps":0.011},{"series":"Measured","eV":405.4,"cps":0.008},{"series":"Measured","eV":405.6,"cps":0.012},{"series":"Measured","eV":405.8,"cps":0.009},{"series":"Measured","eV":406,"cps":0.013},{"series":"Measured","eV":406.2,"cps":0.016},{"series":"Measured","eV":406.4,"cps":0.014},{"series":"Measured","eV":406.6,"cps":0.017},{"series":"Measured","eV":406.8,"cps":0.013},{"series":"Measured","eV":407,"cps":0.015},{"series":"Measured","eV":407.2,"cps":0.012},{"series":"Measured","eV":407.4,"cps":0.01},{"series":"Measured","eV":407.6,"cps":0.011},{"series":"Measured","eV":407.8,"cps":0.007},{"series":"Measured","eV":408,"cps":0.005},
{"series":"Component 2","eV":392.3,"cps":0},{"series":"Component 2","eV":399.3,"cps":0},{"series":"Component 2","eV":399.6,"cps":0.0001},{"series":"Component 2","eV":399.9,"cps":0.0006},{"series":"Component 2","eV":400.2,"cps":0.0024},{"series":"Component 2","eV":400.5,"cps":0.0074},{"series":"Component 2","eV":400.8,"cps":0.0179},{"series":"Component 2","eV":401.1,"cps":0.0334},{"series":"Component 2","eV":401.4,"cps":0.0485},{"series":"Component 2","eV":401.7,"cps":0.055},{"series":"Component 2","eV":402,"cps":0.0485},{"series":"Component 2","eV":402.3,"cps":0.0334},{"series":"Component 2","eV":402.6,"cps":0.0179},{"series":"Component 2","eV":402.9,"cps":0.0074},{"series":"Component 2","eV":403.2,"cps":0.0024},{"series":"Component 2","eV":403.5,"cps":0.0006},{"series":"Component 2","eV":403.8,"cps":0.0001},{"series":"Component 2","eV":404.1,"cps":0},{"series":"Component 2","eV":408,"cps":0},
{"series":"Component 1","eV":392.3,"cps":0},{"series":"Component 1","eV":397.55,"cps":0},{"series":"Component 1","eV":397.865,"cps":0.0022},{"series":"Component 1","eV":398.18,"cps":0.0109},{"series":"Component 1","eV":398.495,"cps":0.0432},{"series":"Component 1","eV":398.81,"cps":0.1333},{"series":"Component 1","eV":399.125,"cps":0.3198},{"series":"Component 1","eV":399.44,"cps":0.5974},{"series":"Component 1","eV":399.755,"cps":0.8693},{"series":"Component 1","eV":400.07,"cps":0.985},{"series":"Component 1","eV":400.385,"cps":0.8693},{"series":"Component 1","eV":400.7,"cps":0.5974},{"series":"Component 1","eV":401.015,"cps":0.3198},{"series":"Component 1","eV":401.33,"cps":0.1333},{"series":"Component 1","eV":401.645,"cps":0.0432},{"series":"Component 1","eV":401.96,"cps":0.0109},{"series":"Component 1","eV":402.275,"cps":0.0022},{"series":"Component 1","eV":402.59,"cps":0},{"series":"Component 1","eV":408,"cps":0},
{"series":"Component 3","eV":392.3,"cps":0},{"series":"Component 3","eV":396.1,"cps":0},{"series":"Component 3","eV":396.375,"cps":0.0001},{"series":"Component 3","eV":396.65,"cps":0.0004},{"series":"Component 3","eV":396.925,"cps":0.0018},{"series":"Component 3","eV":397.2,"cps":0.0054},{"series":"Component 3","eV":397.475,"cps":0.013},{"series":"Component 3","eV":397.75,"cps":0.0243},{"series":"Component 3","eV":398.025,"cps":0.0353},{"series":"Component 3","eV":398.3,"cps":0.04},{"series":"Component 3","eV":398.575,"cps":0.0353},{"series":"Component 3","eV":398.85,"cps":0.0243},{"series":"Component 3","eV":399.125,"cps":0.013},{"series":"Component 3","eV":399.4,"cps":0.0054},{"series":"Component 3","eV":399.675,"cps":0.0018},{"series":"Component 3","eV":399.95,"cps":0.0004},{"series":"Component 3","eV":400.225,"cps":0.0001},{"series":"Component 3","eV":400.5,"cps":0},{"series":"Component 3","eV":408,"cps":0}
]
},
"vconcat": [
{"hconcat": [
{"width": 314, "height": 269, "data": {"name": "A"},
 "title": {"text": "(A)", "dx": -30, "dy": 39},
 "encoding": {
  "y": {"field": "cps", "type": "quantitative", "scale": {"domain": [-0.055, 1.1], "nice": false, "zero": false},
   "axis": {"title": "CPS (normalised)", "values": [0,0.1,0.2,0.3,0.4,0.5,0.6,0.7,0.8,0.9,1], "format": ".1f", "labelExpr": "round(datum.value*10) % 2 === 0 ? datum.label : ''", "tickSize": {"condition": {"test": "round(datum.value*10) % 2 === 0", "value": 5}, "value": 3}, "titlePadding": 6}},
  "color": {"field": "series", "type": "nominal", "legend": null, "scale": {"domain": ["Measured","Component 1","Component 2","Component 3","Component 4","Component 5","Component 6","Zero line","Background"], "range": ["#1e1e1e","#d9363e","#3a3ac4","#d64fd6","#2e2e7c","#9a46e0","#2b2ba0","#b44fe0","#3f9a3f"]}}
 },
 "layer": [
  {"transform": [{"filter": "datum.series === 'Measured'"}], "mark": {"type": "line", "clip": true, "strokeWidth": 1.2},
   "encoding": {"x": {"field": "eV", "type": "quantitative", "scale": {"domain": [528, 538], "nice": false, "zero": false},
    "axis": {"title": "Binding Energy (eV)", "values": [528,529,530,531,532,533,534,535,536,537,538], "format": "d", "labelExpr": "datum.value % 2 === 0 ? datum.label : ''", "tickSize": {"condition": {"test": "datum.value % 2 === 0", "value": 5}, "value": 3}, "titlePadding": 12}}}},
  {"transform": [{"filter": "datum.series !== 'Measured'"}], "mark": {"type": "line", "clip": true, "strokeWidth": 1.2, "interpolate": "monotone"},
   "encoding": {"x": {"field": "eV", "type": "quantitative",
    "axis": {"orient": "top", "title": "EKKEDRGDEKKE", "labels": false, "ticks": false, "domain": false, "titleFont": "DejaVu Sans", "titleFontSize": 23, "titleColor": "#111", "titlePadding": 25, "titleX": 150}}}}
 ],
 "resolve": {"axis": {"x": "independent"}}
},
{"width": 319, "height": 267, "data": {"name": "B"},
 "title": {"text": "(B)", "dx": -24, "dy": 39},
 "encoding": {
  "y": {"field": "cps", "type": "quantitative", "scale": {"domain": [-0.1, 1.1], "nice": false, "zero": false},
   "axis": {"title": "CPS (normalised)", "values": [0,0.1,0.2,0.3,0.4,0.5,0.6,0.7,0.8,0.9,1], "format": ".1f", "labelExpr": "round(datum.value*10) % 2 === 0 ? datum.label : ''", "tickSize": {"condition": {"test": "round(datum.value*10) % 2 === 0", "value": 5}, "value": 3}, "titlePadding": 6}},
  "color": {"field": "series", "type": "nominal", "legend": null, "scale": {"domain": ["Measured","Component 1","Component 2","Component 3","Component 4","Component 5","Component 6","Zero line","Background"], "range": ["#1e1e1e","#d9363e","#3a3ac4","#d64fd6","#2e2e7c","#9a46e0","#2b2ba0","#b44fe0","#3f9a3f"]}}
 },
 "layer": [
  {"transform": [{"filter": "datum.series === 'Background'"}], "mark": {"type": "line", "clip": true, "strokeWidth": 1.2},
   "encoding": {"x": {"field": "eV", "type": "quantitative", "scale": {"domain": [528, 538], "nice": false, "zero": false},
    "axis": {"title": "Binding Energy (eV)", "values": [528,529,530,531,532,533,534,535,536,537,538], "format": "d", "labelExpr": "datum.value % 2 === 0 ? datum.label : ''", "tickSize": {"condition": {"test": "datum.value % 2 === 0", "value": 5}, "value": 3}, "titlePadding": 12}}}},
  {"transform": [{"filter": "datum.series === 'Measured'"}], "mark": {"type": "line", "clip": true, "strokeWidth": 1.2},
   "encoding": {"x": {"field": "eV", "type": "quantitative", "axis": null}}},
  {"transform": [{"filter": "datum.series !== 'Measured' && datum.series !== 'Background'"}], "mark": {"type": "line", "clip": true, "strokeWidth": 1.2, "interpolate": "monotone"},
   "encoding": {"x": {"field": "eV", "type": "quantitative",
    "axis": {"orient": "top", "title": "Uranyl nitrate", "labels": false, "ticks": false, "domain": false, "titleFont": "DejaVu Sans", "titleFontSize": 23, "titleColor": "#111", "titlePadding": 25}}}}
 ],
 "resolve": {"axis": {"x": "independent"}}
},
{"width": 308, "height": 270, "data": {"name": "C"},
 "title": {"text": "(C)", "dx": -20, "dy": 59},
 "encoding": {
  "y": {"field": "cps", "type": "quantitative", "scale": {"domain": [-0.1, 1.1], "nice": false, "zero": false},
   "axis": {"title": "CPS (normalised)", "values": [0,0.1,0.2,0.3,0.4,0.5,0.6,0.7,0.8,0.9,1], "format": ".1f", "labelExpr": "round(datum.value*10) % 2 === 0 ? datum.label : ''", "tickSize": {"condition": {"test": "round(datum.value*10) % 2 === 0", "value": 5}, "value": 3}, "titlePadding": 6}},
  "color": {"field": "series", "type": "nominal", "legend": null, "scale": {"domain": ["Measured","Component 1","Component 2","Component 3","Component 4","Component 5","Component 6","Zero line","Background"], "range": ["#1e1e1e","#d9363e","#3a3ac4","#d64fd6","#2e2e7c","#9a46e0","#2b2ba0","#b44fe0","#3f9a3f"]}}
 },
 "layer": [
  {"transform": [{"filter": "datum.series === 'Measured'"}], "mark": {"type": "line", "clip": true, "strokeWidth": 1.2},
   "encoding": {"x": {"field": "eV", "type": "quantitative", "scale": {"domain": [528, 538], "nice": false, "zero": false},
    "axis": {"title": "Binding Energy (eV)", "values": [528,529,530,531,532,533,534,535,536,537,538], "format": "d", "labelExpr": "datum.value % 2 === 0 ? datum.label : ''", "tickSize": {"condition": {"test": "datum.value % 2 === 0", "value": 5}, "value": 3}, "titlePadding": 12}}}},
  {"transform": [{"filter": "datum.series !== 'Measured' && datum.series !== 'Zero line'"}], "mark": {"type": "line", "clip": true, "strokeWidth": 1.2, "interpolate": "monotone"},
   "encoding": {"x": {"field": "eV", "type": "quantitative",
    "axis": {"orient": "top", "title": ["EKKEDRGDEKKE", "+ Uranyl nitrate"], "labels": false, "ticks": false, "domain": false, "titleFont": "DejaVu Sans", "titleFontSize": 23, "titleColor": "#111", "titlePadding": 12, "titleLineHeight": 30, "titleX": 176}}}},
  {"transform": [{"filter": "datum.series === 'Zero line'"}], "mark": {"type": "line", "clip": true, "strokeWidth": 1.2},
   "encoding": {"x": {"field": "eV", "type": "quantitative", "axis": null}}}
 ],
 "resolve": {"axis": {"x": "independent"}}
}
], "spacing": 20},
{"hconcat": [
{"width": 313, "height": 272, "data": {"name": "D"},
 "title": {"text": "(D)", "dx": -36, "offset": 13},
 "encoding": {
  "x": {"field": "eV", "type": "quantitative", "scale": {"domain": [392, 408], "nice": false, "zero": false},
    "axis": {"title": "Binding Energy (eV)", "values": [392,393,394,395,396,397,398,399,400,401,402,403,404,405,406,407,408], "format": "d", "labelExpr": "datum.value % 2 === 0 ? datum.label : ''", "tickSize": {"condition": {"test": "datum.value % 2 === 0", "value": 5}, "value": 3}, "titlePadding": 12}},
  "y": {"field": "cps", "type": "quantitative", "scale": {"domain": [-0.1, 1.1], "nice": false, "zero": false},
   "axis": {"title": "CPS (normalised)", "values": [0,0.1,0.2,0.3,0.4,0.5,0.6,0.7,0.8,0.9,1], "format": ".1f", "labelExpr": "round(datum.value*10) % 2 === 0 ? datum.label : ''", "tickSize": {"condition": {"test": "round(datum.value*10) % 2 === 0", "value": 5}, "value": 3}, "titlePadding": 6}},
  "color": {"field": "series", "type": "nominal", "legend": null, "scale": {"domain": ["Measured","Component 1","Component 2","Component 3","Component 4","Component 5","Component 6","Zero line","Background"], "range": ["#1e1e1e","#d9363e","#3a3ac4","#d64fd6","#2e2e7c","#9a46e0","#2b2ba0","#b44fe0","#3f9a3f"]}}
 },
 "layer": [
  {"transform": [{"filter": "datum.series === 'Measured'"}], "mark": {"type": "line", "clip": true, "strokeWidth": 1.1}},
  {"transform": [{"filter": "datum.series !== 'Measured'"}], "mark": {"type": "line", "clip": true, "strokeWidth": 1.2, "interpolate": "monotone"}}
 ]
},
{"width": 311, "height": 272, "data": {"name": "E"},
 "title": {"text": "(E)", "dx": -23, "offset": 13},
 "encoding": {
  "x": {"field": "eV", "type": "quantitative", "scale": {"domain": [393.6, 410.4], "nice": false, "zero": false},
    "axis": {"title": "Binding Energy (eV)", "values": [394,395,396,397,398,399,400,401,402,403,404,405,406,407,408,409,410], "format": "d", "labelExpr": "datum.value % 2 === 0 ? datum.label : ''", "tickSize": {"condition": {"test": "datum.value % 2 === 0", "value": 5}, "value": 3}, "titlePadding": 12}},
  "y": {"field": "cps", "type": "quantitative", "scale": {"domain": [-0.01, 0.13], "nice": false, "zero": false},
   "axis": {"title": "CPS (normalised)", "values": [0,0.01,0.02,0.03,0.04,0.05,0.06,0.07,0.08,0.09,0.1,0.11,0.12], "format": ".2f", "labelExpr": "round(datum.value*100) % 2 === 0 ? datum.label : ''", "tickSize": {"condition": {"test": "round(datum.value*100) % 2 === 0", "value": 5}, "value": 3}, "titlePadding": 6}},
  "color": {"field": "series", "type": "nominal", "legend": null, "scale": {"domain": ["Measured","Component 1","Component 2","Component 3","Component 4","Component 5","Component 6","Zero line","Background"], "range": ["#1e1e1e","#d9363e","#3a3ac4","#d64fd6","#2e2e7c","#9a46e0","#2b2ba0","#b44fe0","#3f9a3f"]}}
 },
 "layer": [
  {"transform": [{"filter": "datum.series === 'Measured'"}], "mark": {"type": "line", "clip": true, "strokeWidth": 1.1}},
  {"transform": [{"filter": "datum.series !== 'Measured'"}], "mark": {"type": "line", "clip": true, "strokeWidth": 1.2, "interpolate": "monotone"}}
 ]
},
{"width": 314, "height": 272, "data": {"name": "F"},
 "title": {"text": "(F)", "dx": -16, "offset": 13},
 "encoding": {
  "x": {"field": "eV", "type": "quantitative", "scale": {"domain": [392, 408], "nice": false, "zero": false},
    "axis": {"title": "Binding Energy (eV)", "values": [392,393,394,395,396,397,398,399,400,401,402,403,404,405,406,407,408], "format": "d", "labelExpr": "datum.value % 2 === 0 ? datum.label : ''", "tickSize": {"condition": {"test": "datum.value % 2 === 0", "value": 5}, "value": 3}, "titlePadding": 12}},
  "y": {"field": "cps", "type": "quantitative", "scale": {"domain": [-0.1, 1.1], "nice": false, "zero": false},
   "axis": {"title": "CPS (normalised)", "values": [0,0.1,0.2,0.3,0.4,0.5,0.6,0.7,0.8,0.9,1], "format": ".1f", "labelExpr": "round(datum.value*10) % 2 === 0 ? datum.label : ''", "tickSize": {"condition": {"test": "round(datum.value*10) % 2 === 0", "value": 5}, "value": 3}, "titlePadding": 6}},
  "color": {"field": "series", "type": "nominal", "legend": null, "scale": {"domain": ["Measured","Component 1","Component 2","Component 3","Component 4","Component 5","Component 6","Zero line","Background"], "range": ["#1e1e1e","#d9363e","#3a3ac4","#d64fd6","#2e2e7c","#9a46e0","#2b2ba0","#b44fe0","#3f9a3f"]}}
 },
 "layer": [
  {"transform": [{"filter": "datum.series === 'Measured'"}], "mark": {"type": "line", "clip": true, "strokeWidth": 1.1}},
  {"transform": [{"filter": "datum.series !== 'Measured'"}], "mark": {"type": "line", "clip": true, "strokeWidth": 1.2, "interpolate": "monotone"}}
 ]
}
], "spacing": 21}
],
"config": {
 "view": {"stroke": "#444", "strokeWidth": 1},
 "title": {"font": "DejaVu Sans", "fontSize": 23, "fontWeight": "normal", "color": "#111", "anchor": "start", "frame": "group", "offset": 0},
 "axis": {"labelFont": "Liberation Sans", "titleFont": "Liberation Sans", "labelFontSize": 9.5, "titleFontSize": 11.5, "titleFontWeight": "normal", "labelColor": "#333", "titleColor": "#222", "domainColor": "#444", "tickColor": "#444", "grid": false, "labelFlush": false, "labelOverlap": false, "labelPadding": 2}
}
}
